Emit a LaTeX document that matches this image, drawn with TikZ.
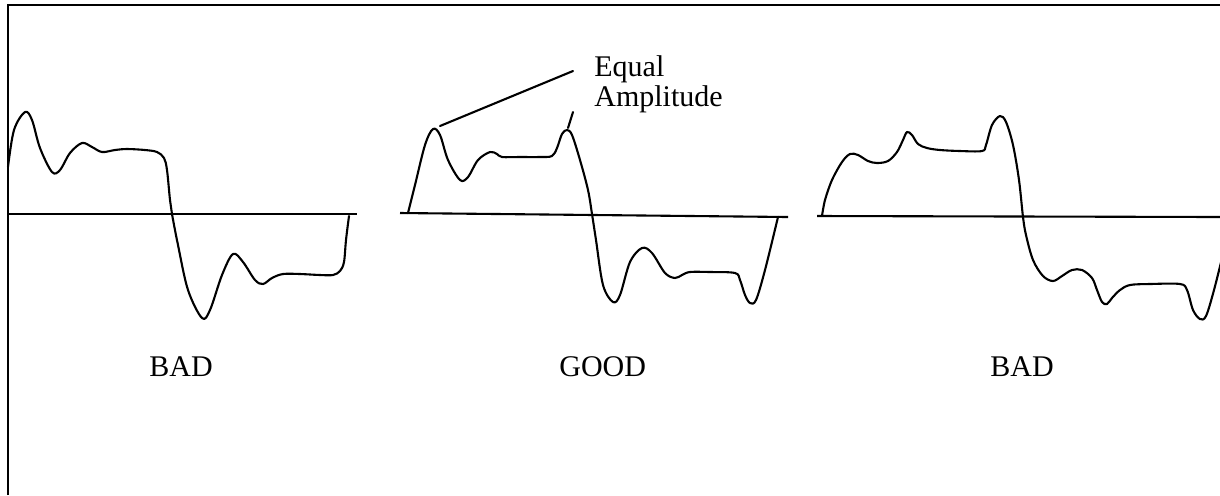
\documentclass[tikz,border=0pt]{standalone}
\usepackage{fontspec}
\setmainfont{Liberation Serif}
\begin{document}
\begin{tikzpicture}[x=0.5pt,y=-0.5pt,
  wave/.style={line width=1.05pt, line join=round, line cap=round},
  axisline/.style={line width=1.05pt},
  frameline/.style={line width=1.4pt},
  lbl/.style={font=\fontsize{15}{18}\selectfont, inner sep=0pt, anchor=base west}]
\useasboundingbox (0,0) rectangle (1220,495);
\begin{scope}
\clip (0,0) rectangle (1220,495);
% frame (top and left only)
\draw[frameline] (8,495) -- (8,5) -- (1222,5);
% axes
\draw[axisline] (8,214) -- (357,214);
\draw[axisline] (400,213) -- (788,217);
\draw[axisline] (817,216) -- (1222,217);
% waveform 1 (BAD)
\draw[wave] plot[smooth, tension=0.55] coordinates {
 (8,167) (14,130) (25,112) (32,120) (40,148) (52,172) (60,170) (70,153) (82,143)
 (92,147) (102,152) (115,150) (127,149) (145,150) (157,152) (164,158) (167,170)
 (170,200) (172,214) (178,245) (188,290) (202,318) (210,310) (222,275) (233,254)
 (243,262) (255,280) (263,284) (272,278) (283,274) (300,274) (320,275) (333,275)
 (340,271) (344,262) (346,240) (349,216)};
% waveform 2 (GOOD)
\draw[wave] plot[smooth, tension=0.55] coordinates {
 (408,213) (415,185) (425,145) (433,129) (440,135) (448,160) (460,180) (468,177)
 (478,160) (490,152) (497,154) (502,157) (520,157) (540,157) (552,156) (557,148)
 (562,134) (567,130) (572,135) (580,160) (588,190) (592,214) (596,240) (603,285)
 (613,302) (620,295) (630,262) (642,248) (652,253) (665,273) (675,278) (682,275)
 (690,272) (710,272) (735,273) (740,280) (745,295) (750,303) (756,300) (765,270)
 (778,217)};
% waveform 3 (BAD)
\draw[wave] plot[smooth, tension=0.55] coordinates {
 (822,216) (825,200) (832,180) (842,162) (850,154) (858,155) (868,161) (877,163)
 (888,161) (897,152) (903,140) (907,132) (912,135) (918,144) (927,148) (940,150)
 (960,151) (982,151) (986,145) (992,125) (1000,116) (1006,122) (1013,145) (1019,180)
 (1023,217) (1026,235) (1033,260) (1043,276) (1053,281) (1062,276) (1072,270)
 (1082,270) (1092,278) (1097,290) (1102,302) (1107,304) (1112,298) (1120,290)
 (1130,285) (1150,284) (1180,284) (1187,290) (1193,310) (1200,319) (1206,316)
 (1214,290) (1224,250)};
\end{scope}
% labels
\node[lbl] (eq) at (594,76) {Equal};
\node[lbl] (amp) at (594,106) {Amplitude};
\node[lbl] (bad1) at (149,376) {BAD};
\node[lbl] (good) at (559,376) {GOOD};
\node[lbl] (bad2) at (990,376) {BAD};
% callout lines
\coordinate (pk1) at (440,126);
\coordinate (pk2) at (568,128);
\coordinate (c1) at (573,71);
\coordinate (c2) at (573,112);
\draw[wave] (pk1) -- (c1);
\draw[wave] (pk2) -- (c2);
\end{tikzpicture}
\end{document}
